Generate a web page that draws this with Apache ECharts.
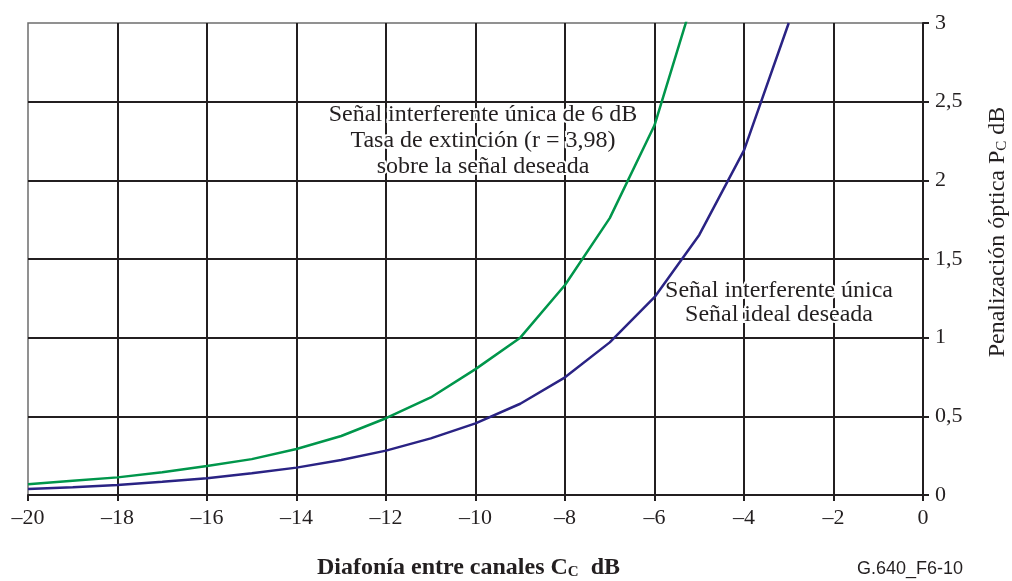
<!DOCTYPE html>
<html><head><meta charset="utf-8">
<script src="https://cdn.jsdelivr.net/npm/echarts@6/dist/echarts.min.js"></script>
<style>html,body{margin:0;padding:0;background:#fff}#c{width:1012px;height:581px}</style>
</head><body><div id="c"></div>
<script>
// Data
const greenX = [-20, -19, -18, -17, -16, -15, -14, -13, -12, -11, -10, -9, -8, -7, -6, -5];
const greenY = [0.068, 0.09, 0.112, 0.145, 0.184, 0.228, 0.292, 0.375, 0.488, 0.62, 0.80, 1.0, 1.335, 1.76, 2.35, 3.28];
const blueX = [-20, -19, -18, -17, -16, -15, -14, -13, -12, -11, -10, -9, -8, -7, -6, -5, -4, -3];
const blueY = [0.038, 0.05, 0.064, 0.084, 0.106, 0.138, 0.174, 0.222, 0.282, 0.36, 0.455, 0.58, 0.748, 0.97, 1.257, 1.653, 2.19, 3.0];
const greenLabel = ['Señal interferente única de 6 dB', 'Tasa de extinción (r = 3,98)', 'sobre la señal deseada'];
const blueLabel = ['Señal interferente única', 'Señal ideal deseada'];
const xName = 'Diafonía entre canales C';
const yName = 'Penalización óptica P';
const figId = 'G.640_F6-10';

const serif = '"Liberation Serif", "Times New Roman", serif';
const gridColor = '#231f20';
const chart = echarts.init(document.getElementById('c'), null, {renderer: 'canvas'});
const zip = (xs, ys) => xs.map((x, i) => [x, ys[i]]);

chart.setOption({
  animation: false,
  grid: {left: 28, right: 89, top: 23, bottom: 86, show: true, borderColor: '#6d6d6d', borderWidth: 1.5,
    containLabel: false, outerBoundsMode: 'none'},
  xAxis: {
    type: 'value', min: -20, max: 0, interval: 2,
    axisLine: {show: true, onZero: false, lineStyle: {color: gridColor, width: 2}},
    axisTick: {show: true, inside: false, length: 6, lineStyle: {color: gridColor, width: 2}},
    axisLabel: {color: '#231f20', fontFamily: serif, fontSize: 22, margin: 12,
      formatter: v => (v < 0 ? '–' + Math.abs(v) : String(v))},
    splitLine: {show: true, showMinLine: false, lineStyle: {color: gridColor, width: 2}},
    name: '{a|' + xName + '}{s|C}{a|  dB}', nameLocation: 'middle', nameGap: 57,
    nameTextStyle: {padding: [0, 14, 0, 0], rich: {
      a: {fontFamily: serif, fontSize: 24, fontWeight: 'bold', color: '#231f20', lineHeight: 28, verticalAlign: 'bottom'},
      s: {fontFamily: serif, fontSize: 15, fontWeight: 'bold', color: '#231f20', lineHeight: 22, verticalAlign: 'bottom'}
    }}
  },
  yAxis: {
    type: 'value', min: 0, max: 3, interval: 0.5, position: 'right',
    axisLine: {show: true, lineStyle: {color: gridColor, width: 2}},
    axisTick: {show: true, inside: false, length: 6, lineStyle: {color: gridColor, width: 2}},
    axisLabel: {color: '#231f20', fontFamily: serif, fontSize: 22, margin: 12,
      formatter: v => String(v).replace('.', ',')},
    splitLine: {show: true, showMinLine: false, showMaxLine: false, lineStyle: {color: gridColor, width: 2}},
    name: '{a|' + yName + '}{s|C}{a| dB}', nameLocation: 'middle', nameGap: 59, nameRotate: 90,
    nameTextStyle: {padding: [0, 0, 0, 54], rich: {
      a: {fontFamily: serif, fontSize: 24, color: '#231f20', lineHeight: 28, verticalAlign: 'bottom'},
      s: {fontFamily: serif, fontSize: 15, color: '#231f20', lineHeight: 22, verticalAlign: 'bottom'}
    }}
  },
  series: [
    {type: 'line', data: zip(greenX, greenY), showSymbol: false, clip: true, lineStyle: {color: '#00964b', width: 2.5}, z: 5},
    {type: 'line', data: zip(blueX, blueY), showSymbol: false, clip: true, lineStyle: {color: '#2a2384', width: 2.5}, z: 5}
  ],
  graphic: [
    {type: 'text', x: 483, y: 102, z: 3, style: {
      text: greenLabel.join('\n'), fill: '#231f20', font: '24px ' + serif, lineHeight: 26,
      align: 'center', verticalAlign: 'top', stroke: '#fff', lineWidth: 4}},
    {type: 'text', x: 779, y: 279, z: 3, style: {
      text: blueLabel.join('\n'), fill: '#231f20', font: '24px ' + serif, lineHeight: 24,
      align: 'center', verticalAlign: 'top', stroke: '#fff', lineWidth: 4}},
    {type: 'text', x: 857, y: 560, style: {
      text: figId, fill: '#231f20', font: '18px "Liberation Sans", Arial, sans-serif'}}
  ]
});
</script></body></html>
